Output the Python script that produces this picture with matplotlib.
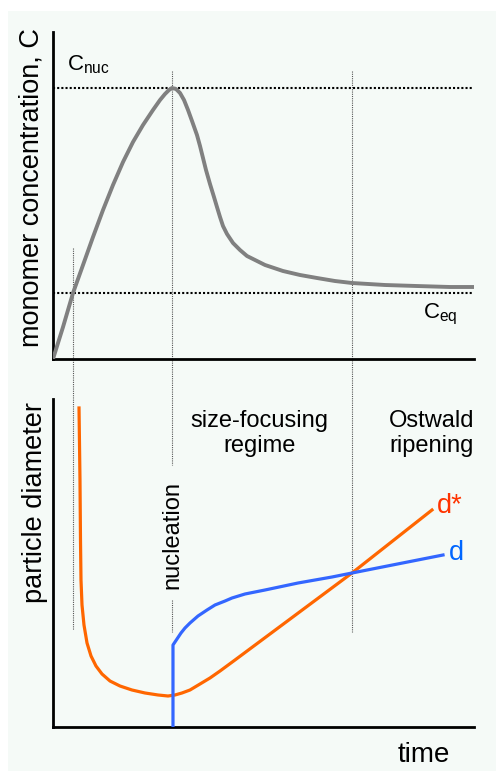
import matplotlib
matplotlib.use("Agg")
import matplotlib.pyplot as plt
from matplotlib.patches import Rectangle

plt.rcParams['font.family'] = ['Liberation Sans', 'DejaVu Sans']

# monomer concentration vs time (time and C in % of axis range)
conc_t = [0, 2.38, 4.75, 7.13, 9.50, 11.88, 14.25, 16.63, 19.00, 21.38, 23.75,
          25.42, 26.60, 27.55, 28.27, 29.22, 30.17, 31.12, 32.07, 33.02, 34.20,
          34.92, 35.63, 36.34, 37.29, 38.24, 38.95, 39.67, 40.38, 41.33, 42.76,
          44.42, 46.08, 47.98, 50.36, 54.63, 58.67, 62.71, 66.98, 71.02, 78.86,
          86.46, 94.30, 100]
conc_c = [0, 9.79, 20.18, 28.75, 37.31, 45.57, 53.21, 60.24, 66.36, 71.56, 76.15,
          79.20, 81.04, 82.26, 82.87, 82.57, 81.35, 79.20, 76.15, 72.78, 68.50,
          65.14, 61.47, 57.80, 53.52, 49.54, 46.48, 43.43, 40.67, 38.23, 35.47,
          33.33, 31.50, 30.28, 28.75, 26.91, 25.69, 24.77, 23.85, 23.24, 22.63,
          22.32, 22.02, 22.02]
c_nuc = 82.87
c_eq = 20.18

# critical diameter d*
dstar_t = [6.18, 6.41, 6.53, 6.65, 6.89, 7.36, 8.08, 9.03, 10.21, 11.64, 13.54,
           15.91, 18.76, 21.85, 24.94, 27.32, 28.98, 30.64, 32.54, 34.92, 37.29,
           39.67, 43.23, 71.02, 90.02]
dstar_d = [97.26, 75.30, 57.01, 44.82, 37.20, 31.10, 25.61, 21.65, 18.60, 16.16,
           14.02, 12.50, 11.28, 10.37, 9.76, 9.45, 9.76, 10.37, 11.28, 13.11, 14.94,
           17.07, 20.43, 46.95, 66.16]
# mean particle diameter d
d_t = [28.50, 28.50, 29.45, 30.40, 31.35, 32.54, 34.44, 36.58, 38.48, 40.86, 42.52,
       45.61, 50.36, 58.19, 66.27, 71.02, 92.64]
d_d = [0, 25.0, 26.83, 28.66, 30.18, 31.71, 33.84, 35.67, 37.20, 38.41, 39.33,
       40.55, 41.77, 43.90, 45.73, 46.95, 52.44]

# stage boundaries
t_start = 4.75
t_nuc = 28.27
t_ost = 71.02

W, H = 496, 771
fig = plt.figure(figsize=(W / 100, H / 100), dpi=100)
fig.patches.append(Rectangle((8 / W, 0), 1, 1 - 11 / H, transform=fig.transFigure,
                             facecolor='#f5faf7', edgecolor='none', zorder=-10))


def px_axes(x0, y0, x1, y1):
    return fig.add_axes([x0 / W, 1 - y1 / H, (x1 - x0) / W, (y1 - y0) / H])


ax1 = px_axes(53, 32, 474, 359)
ax2 = px_axes(53, 399, 474, 727)

for ax in (ax1, ax2):
    ax.set_facecolor('none')
    ax.set_xlim(0, 100)
    ax.set_ylim(0, 100)
    ax.set_xticks([])
    ax.set_yticks([])
    for s in ('top', 'right'):
        ax.spines[s].set_visible(False)
    for s in ('left', 'bottom'):
        ax.spines[s].set_linewidth(2.0)
        ax.spines[s].set_color('black')

# top panel
ax1.plot(conc_t, conc_c, color='#808080', lw=2.8, solid_joinstyle='round',
         solid_capstyle='round', zorder=3)
ax1.axhline(c_nuc, xmax=0.995, color='black', lw=1.5, ls=(0, (1, 1)))
ax1.axhline(c_eq, xmax=0.995, color='black', lw=1.5, ls=(0, (1, 1)))

vdot = dict(color='#555555', lw=0.8, ls=(0, (1, 1)), clip_on=False, zorder=1)
ax1.plot([t_start, t_start], [34, -82.9], **vdot)
ax1.plot([t_nuc, t_nuc], [88.1, -32.4], **vdot)
ax1.plot([t_ost, t_ost], [88.1, -83.5], **vdot)
ax2.plot([t_nuc, t_nuc], [38.7, 29.0], **vdot)

ax1.text(3.3, 86.5, r'C$\mathregular{_{nuc}}$', fontsize=16, ha='left', va='bottom')
ax1.text(88, 17.5, r'C$\mathregular{_{eq}}$', fontsize=16, ha='left', va='top')
ax1.text(-0.05, 0.523, 'monomer concentration, C', fontsize=19.5, rotation=90,
         ha='center', va='center', transform=ax1.transAxes)

# bottom panel
ax2.plot(dstar_t, dstar_d, color='#ff6600', lw=2.3, solid_joinstyle='round', zorder=3)
ax2.plot(d_t, d_d, color='#3366ff', lw=2.3, solid_joinstyle='round', zorder=4)
ax2.text(91.3, 67.5, 'd*', color='#ff3300', fontsize=19.5, ha='left', va='center')
ax2.text(94, 53, 'd', color='#0066ff', fontsize=19.5, ha='left', va='center')
ax2.text(t_nuc, 58.5, 'nucleation', rotation=90, fontsize=17, ha='center', va='center')
ax2.text(49, 89.5, 'size-focusing\nregime', fontsize=17, ha='center', va='center',
         linespacing=1.15)
ax2.text(90, 89.5, 'Ostwald\nripening', fontsize=17, ha='center', va='center',
         linespacing=1.15)
ax2.text(-0.043, 0.683, 'particle diameter', fontsize=19.5, rotation=90,
         ha='center', va='center', transform=ax2.transAxes)
ax2.text(88, -8.5, 'time', fontsize=20, ha='center', va='center')

fig.savefig('out.png', dpi=100)
